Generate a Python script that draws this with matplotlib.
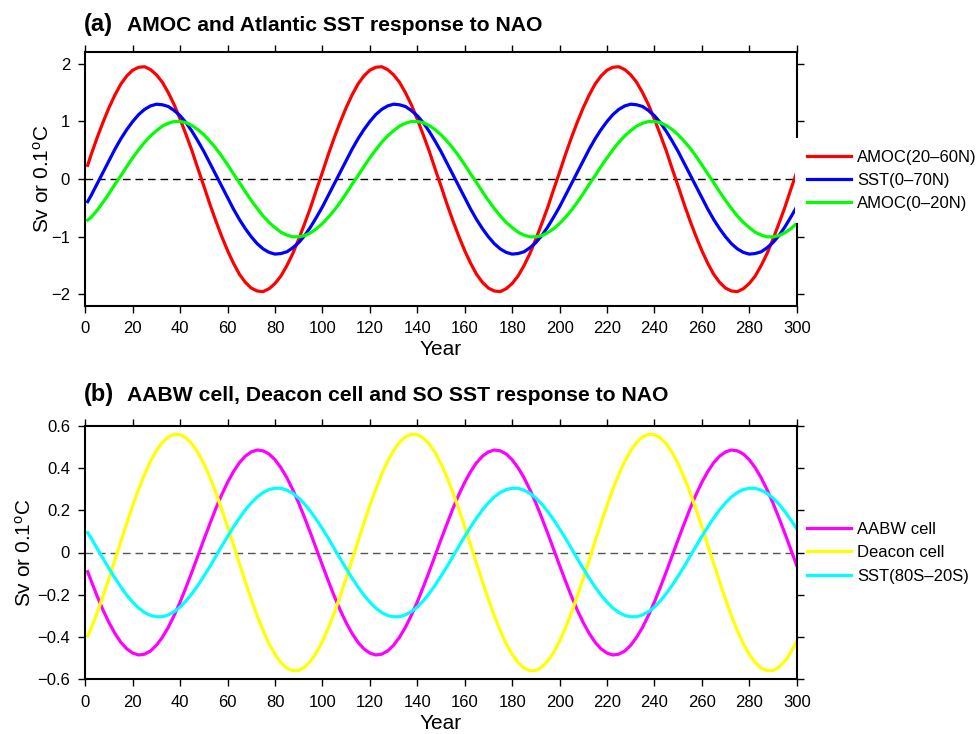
import matplotlib
matplotlib.use("Agg")
import matplotlib.pyplot as plt

plt.rcParams['font.family'] = ['Liberation Sans', 'DejaVu Sans']
plt.rcParams['mathtext.fontset'] = 'custom'
plt.rcParams['mathtext.rm'] = 'Liberation Sans'
plt.rcParams['mathtext.it'] = 'Liberation Sans:italic'

# ---------------- data ----------------
years = [1] + [2.5 * k for k in range(1, 121)]

amoc_20_60n = [
    0.24, 0.43, 0.72, 0.99, 1.24, 1.46, 1.65, 1.79, 1.89, 1.94, 1.95, 1.90, 1.81, 1.68, 1.50, 1.29, 1.04, 0.77, 0.49, 0.18,
    -0.12, -0.43, -0.72, -0.99, -1.24, -1.46, -1.65, -1.79, -1.89, -1.94, -1.95, -1.90, -1.81, -1.68, -1.50, -1.29, -1.04, -0.77, -0.49, -0.18,
    0.12, 0.43, 0.72, 0.99, 1.24, 1.46, 1.65, 1.79, 1.89, 1.94, 1.95, 1.90, 1.81, 1.68, 1.50, 1.29, 1.04, 0.77, 0.49, 0.18,
    -0.12, -0.43, -0.72, -0.99, -1.24, -1.46, -1.65, -1.79, -1.89, -1.94, -1.95, -1.90, -1.81, -1.68, -1.50, -1.29, -1.04, -0.77, -0.49, -0.18,
    0.12, 0.43, 0.72, 0.99, 1.24, 1.46, 1.65, 1.79, 1.89, 1.94, 1.95, 1.90, 1.81, 1.68, 1.50, 1.29, 1.04, 0.77, 0.49, 0.18,
    -0.12, -0.43, -0.72, -0.99, -1.24, -1.46, -1.65, -1.79, -1.89, -1.94, -1.95, -1.90, -1.81, -1.68, -1.50, -1.29, -1.04, -0.77, -0.49, -0.18,
    0.12]
sst_0_70n = [
    -0.39, -0.28, -0.08, 0.12, 0.32, 0.52, 0.70, 0.86, 1.00, 1.12, 1.21, 1.27, 1.30, 1.29, 1.26, 1.19, 1.10, 0.98, 0.83, 0.66,
    0.48, 0.28, 0.08, -0.12, -0.32, -0.52, -0.70, -0.86, -1.00, -1.12, -1.21, -1.27, -1.30, -1.29, -1.26, -1.19, -1.10, -0.98, -0.83, -0.66,
    -0.48, -0.28, -0.08, 0.12, 0.32, 0.52, 0.70, 0.86, 1.00, 1.12, 1.21, 1.27, 1.30, 1.29, 1.26, 1.19, 1.10, 0.98, 0.83, 0.66,
    0.48, 0.28, 0.08, -0.12, -0.32, -0.52, -0.70, -0.86, -1.00, -1.12, -1.21, -1.27, -1.30, -1.29, -1.26, -1.19, -1.10, -0.98, -0.83, -0.66,
    -0.48, -0.28, -0.08, 0.12, 0.32, 0.52, 0.70, 0.86, 1.00, 1.12, 1.21, 1.27, 1.30, 1.29, 1.26, 1.19, 1.10, 0.98, 0.83, 0.66,
    0.48, 0.28, 0.08, -0.12, -0.32, -0.52, -0.70, -0.86, -1.00, -1.12, -1.21, -1.27, -1.30, -1.29, -1.26, -1.19, -1.10, -0.98, -0.83, -0.66,
    -0.48]
amoc_0_20n = [
    -0.71, -0.66, -0.54, -0.40, -0.25, -0.09, 0.06, 0.22, 0.37, 0.51, 0.64, 0.75, 0.84, 0.92, 0.97, 1.00, 1.00, 0.98, 0.93, 0.86,
    0.77, 0.66, 0.54, 0.40, 0.25, 0.09, -0.06, -0.22, -0.37, -0.51, -0.64, -0.75, -0.84, -0.92, -0.97, -1.00, -1.00, -0.98, -0.93, -0.86,
    -0.77, -0.66, -0.54, -0.40, -0.25, -0.09, 0.06, 0.22, 0.37, 0.51, 0.64, 0.75, 0.84, 0.92, 0.97, 1.00, 1.00, 0.98, 0.93, 0.86,
    0.77, 0.66, 0.54, 0.40, 0.25, 0.09, -0.06, -0.22, -0.37, -0.51, -0.64, -0.75, -0.84, -0.92, -0.97, -1.00, -1.00, -0.98, -0.93, -0.86,
    -0.77, -0.66, -0.54, -0.40, -0.25, -0.09, 0.06, 0.22, 0.37, 0.51, 0.64, 0.75, 0.84, 0.92, 0.97, 1.00, 1.00, 0.98, 0.93, 0.86,
    0.77, 0.66, 0.54, 0.40, 0.25, 0.09, -0.06, -0.22, -0.37, -0.51, -0.64, -0.75, -0.84, -0.92, -0.97, -1.00, -1.00, -0.98, -0.93, -0.86,
    -0.77]

aabw_cell = [
    -0.091, -0.135, -0.207, -0.273, -0.332, -0.383, -0.425, -0.456, -0.476, -0.485, -0.481, -0.466, -0.439, -0.401, -0.354, -0.297, -0.234, -0.164, -0.091, -0.015,
    0.061, 0.135, 0.207, 0.273, 0.332, 0.383, 0.425, 0.456, 0.476, 0.485, 0.481, 0.466, 0.439, 0.401, 0.354, 0.297, 0.234, 0.164, 0.091, 0.015,
    -0.061, -0.135, -0.207, -0.273, -0.332, -0.383, -0.425, -0.456, -0.476, -0.485, -0.481, -0.466, -0.439, -0.401, -0.354, -0.297, -0.234, -0.164, -0.091, -0.015,
    0.061, 0.135, 0.207, 0.273, 0.332, 0.383, 0.425, 0.456, 0.476, 0.485, 0.481, 0.466, 0.439, 0.401, 0.354, 0.297, 0.234, 0.164, 0.091, 0.015,
    -0.061, -0.135, -0.207, -0.273, -0.332, -0.383, -0.425, -0.456, -0.476, -0.485, -0.481, -0.466, -0.439, -0.401, -0.354, -0.297, -0.234, -0.164, -0.091, -0.015,
    0.061, 0.135, 0.207, 0.273, 0.332, 0.383, 0.425, 0.456, 0.476, 0.485, 0.481, 0.466, 0.439, 0.401, 0.354, 0.297, 0.234, 0.164, 0.091, 0.015,
    -0.061]
deacon_cell = [
    -0.396, -0.357, -0.285, -0.206, -0.122, -0.035, 0.053, 0.139, 0.222, 0.300, 0.370, 0.432, 0.482, 0.521, 0.547, 0.559, 0.558, 0.542, 0.514, 0.473,
    0.420, 0.357, 0.285, 0.206, 0.122, 0.035, -0.053, -0.139, -0.222, -0.300, -0.370, -0.432, -0.482, -0.521, -0.547, -0.559, -0.558, -0.542, -0.514, -0.473,
    -0.420, -0.357, -0.285, -0.206, -0.122, -0.035, 0.053, 0.139, 0.222, 0.300, 0.370, 0.432, 0.482, 0.521, 0.547, 0.559, 0.558, 0.542, 0.514, 0.473,
    0.420, 0.357, 0.285, 0.206, 0.122, 0.035, -0.053, -0.139, -0.222, -0.300, -0.370, -0.432, -0.482, -0.521, -0.547, -0.559, -0.558, -0.542, -0.514, -0.473,
    -0.420, -0.357, -0.285, -0.206, -0.122, -0.035, 0.053, 0.139, 0.222, 0.300, 0.370, 0.432, 0.482, 0.521, 0.547, 0.559, 0.558, 0.542, 0.514, 0.473,
    0.420, 0.357, 0.285, 0.206, 0.122, 0.035, -0.053, -0.139, -0.222, -0.300, -0.370, -0.432, -0.482, -0.521, -0.547, -0.559, -0.558, -0.542, -0.514, -0.473,
    -0.420]
sst_80s_20s = [
    0.094, 0.067, 0.019, -0.029, -0.076, -0.121, -0.163, -0.202, -0.235, -0.263, -0.284, -0.298, -0.304, -0.304, -0.295, -0.280, -0.258, -0.229, -0.194, -0.155,
    -0.112, -0.067, -0.019, 0.029, 0.076, 0.121, 0.163, 0.202, 0.235, 0.263, 0.284, 0.298, 0.304, 0.304, 0.295, 0.280, 0.258, 0.229, 0.194, 0.155,
    0.112, 0.067, 0.019, -0.029, -0.076, -0.121, -0.163, -0.202, -0.235, -0.263, -0.284, -0.298, -0.304, -0.304, -0.295, -0.280, -0.258, -0.229, -0.194, -0.155,
    -0.112, -0.067, -0.019, 0.029, 0.076, 0.121, 0.163, 0.202, 0.235, 0.263, 0.284, 0.298, 0.304, 0.304, 0.295, 0.280, 0.258, 0.229, 0.194, 0.155,
    0.112, 0.067, 0.019, -0.029, -0.076, -0.121, -0.163, -0.202, -0.235, -0.263, -0.284, -0.298, -0.304, -0.304, -0.295, -0.280, -0.258, -0.229, -0.194, -0.155,
    -0.112, -0.067, -0.019, 0.029, 0.076, 0.121, 0.163, 0.202, 0.235, 0.263, 0.284, 0.298, 0.304, 0.304, 0.295, 0.280, 0.258, 0.229, 0.194, 0.155,
    0.112]

labels_a = ['AMOC(20–60N)', 'SST(0–70N)', 'AMOC(0–20N)']
labels_b = ['AABW cell', 'Deacon cell', 'SST(80S–20S)']
xticks = list(range(0, 301, 20))
yticks_a = [-2, -1, 0, 1, 2]
yticks_b = [-0.6, -0.4, -0.2, 0, 0.2, 0.4, 0.6]
yticklabels_b = ['−0.6', '−0.4', '−0.2', '0', '0.2', '0.4', '0.6']
title_a = ('(a)', 'AMOC and Atlantic SST response to NAO')
title_b = ('(b)', 'AABW cell, Deacon cell and SO SST response to NAO')

# ---------------- figure ----------------
W, H = 978, 734
fig = plt.figure(figsize=(W / 100, H / 100), dpi=100)


def rect(l, t, r, b):
    return [l / W, 1 - b / H, (r - l) / W, (b - t) / H]


axa = fig.add_axes(rect(85.3, 52.3, 796.7, 306))
axb = fig.add_axes(rect(85.3, 425.7, 796.7, 679.3))

LW = 2.3
la = []
la += axa.plot(years, amoc_20_60n, color='#ff0000', lw=LW)
la += axa.plot(years, sst_0_70n, color='#0000ff', lw=LW)
la += axa.plot(years, amoc_0_20n, color='#00ff00', lw=LW)
axa.axhline(0, color='black', lw=1.0, dashes=(5.5, 3.5), zorder=0)

lb = []
lb += axb.plot(years, aabw_cell, color='#ff00ff', lw=LW)
lb += axb.plot(years, deacon_cell, color='#ffff00', lw=LW)
lb += axb.plot(years, sst_80s_20s, color='#00ffff', lw=LW)
axb.axhline(0, color='#555555', lw=1.0, dashes=(5.5, 3.5), zorder=0)

for ax, lp in ((axa, -1), (axb, 1.5)):
    ax.set_xlim(0, 300)
    ax.set_xticks(xticks)
    for s in ax.spines.values():
        s.set_linewidth(1.5)
    ax.tick_params(direction='out', length=5, width=1.0, top=True, right=True,
                   labelsize=12, pad=6)
    ax.set_xlabel('Year', fontsize=15, labelpad=3)
    ax.set_ylabel('Sv or 0.1$^{\\mathrm{o}}$C', fontsize=15, labelpad=lp)

axa.set_ylim(-2.2, 2.2)
axa.set_yticks(yticks_a)
axb.set_ylim(-0.6, 0.6)
axb.set_yticks(yticks_b)
axb.set_yticklabels(yticklabels_b)

for (lab, txt), yb in ((title_a, 30.7), (title_b, 400.7)):
    fig.text(84 / W, 1 - yb / H, lab, fontsize=17, fontweight='bold',
             ha='left', va='baseline')
    fig.text(126.7 / W, 1 - yb / H, txt, fontsize=15.2, fontweight='bold',
             ha='left', va='baseline')

common = dict(loc='center left', fontsize=12, handlelength=2.65,
              handletextpad=0.35, labelspacing=0.5, borderpad=0.7,
              borderaxespad=0, fancybox=False)
fig.legend(la, labels_a, bbox_to_anchor=(795.4 / W, 1 - 180.5 / H),
           frameon=True, edgecolor='none', facecolor='white', framealpha=1,
           **common)
fig.legend(lb, labels_b, bbox_to_anchor=(795.4 / W, 1 - 552.7 / H),
           frameon=False, **common)

fig.savefig('out.png', dpi=100)
